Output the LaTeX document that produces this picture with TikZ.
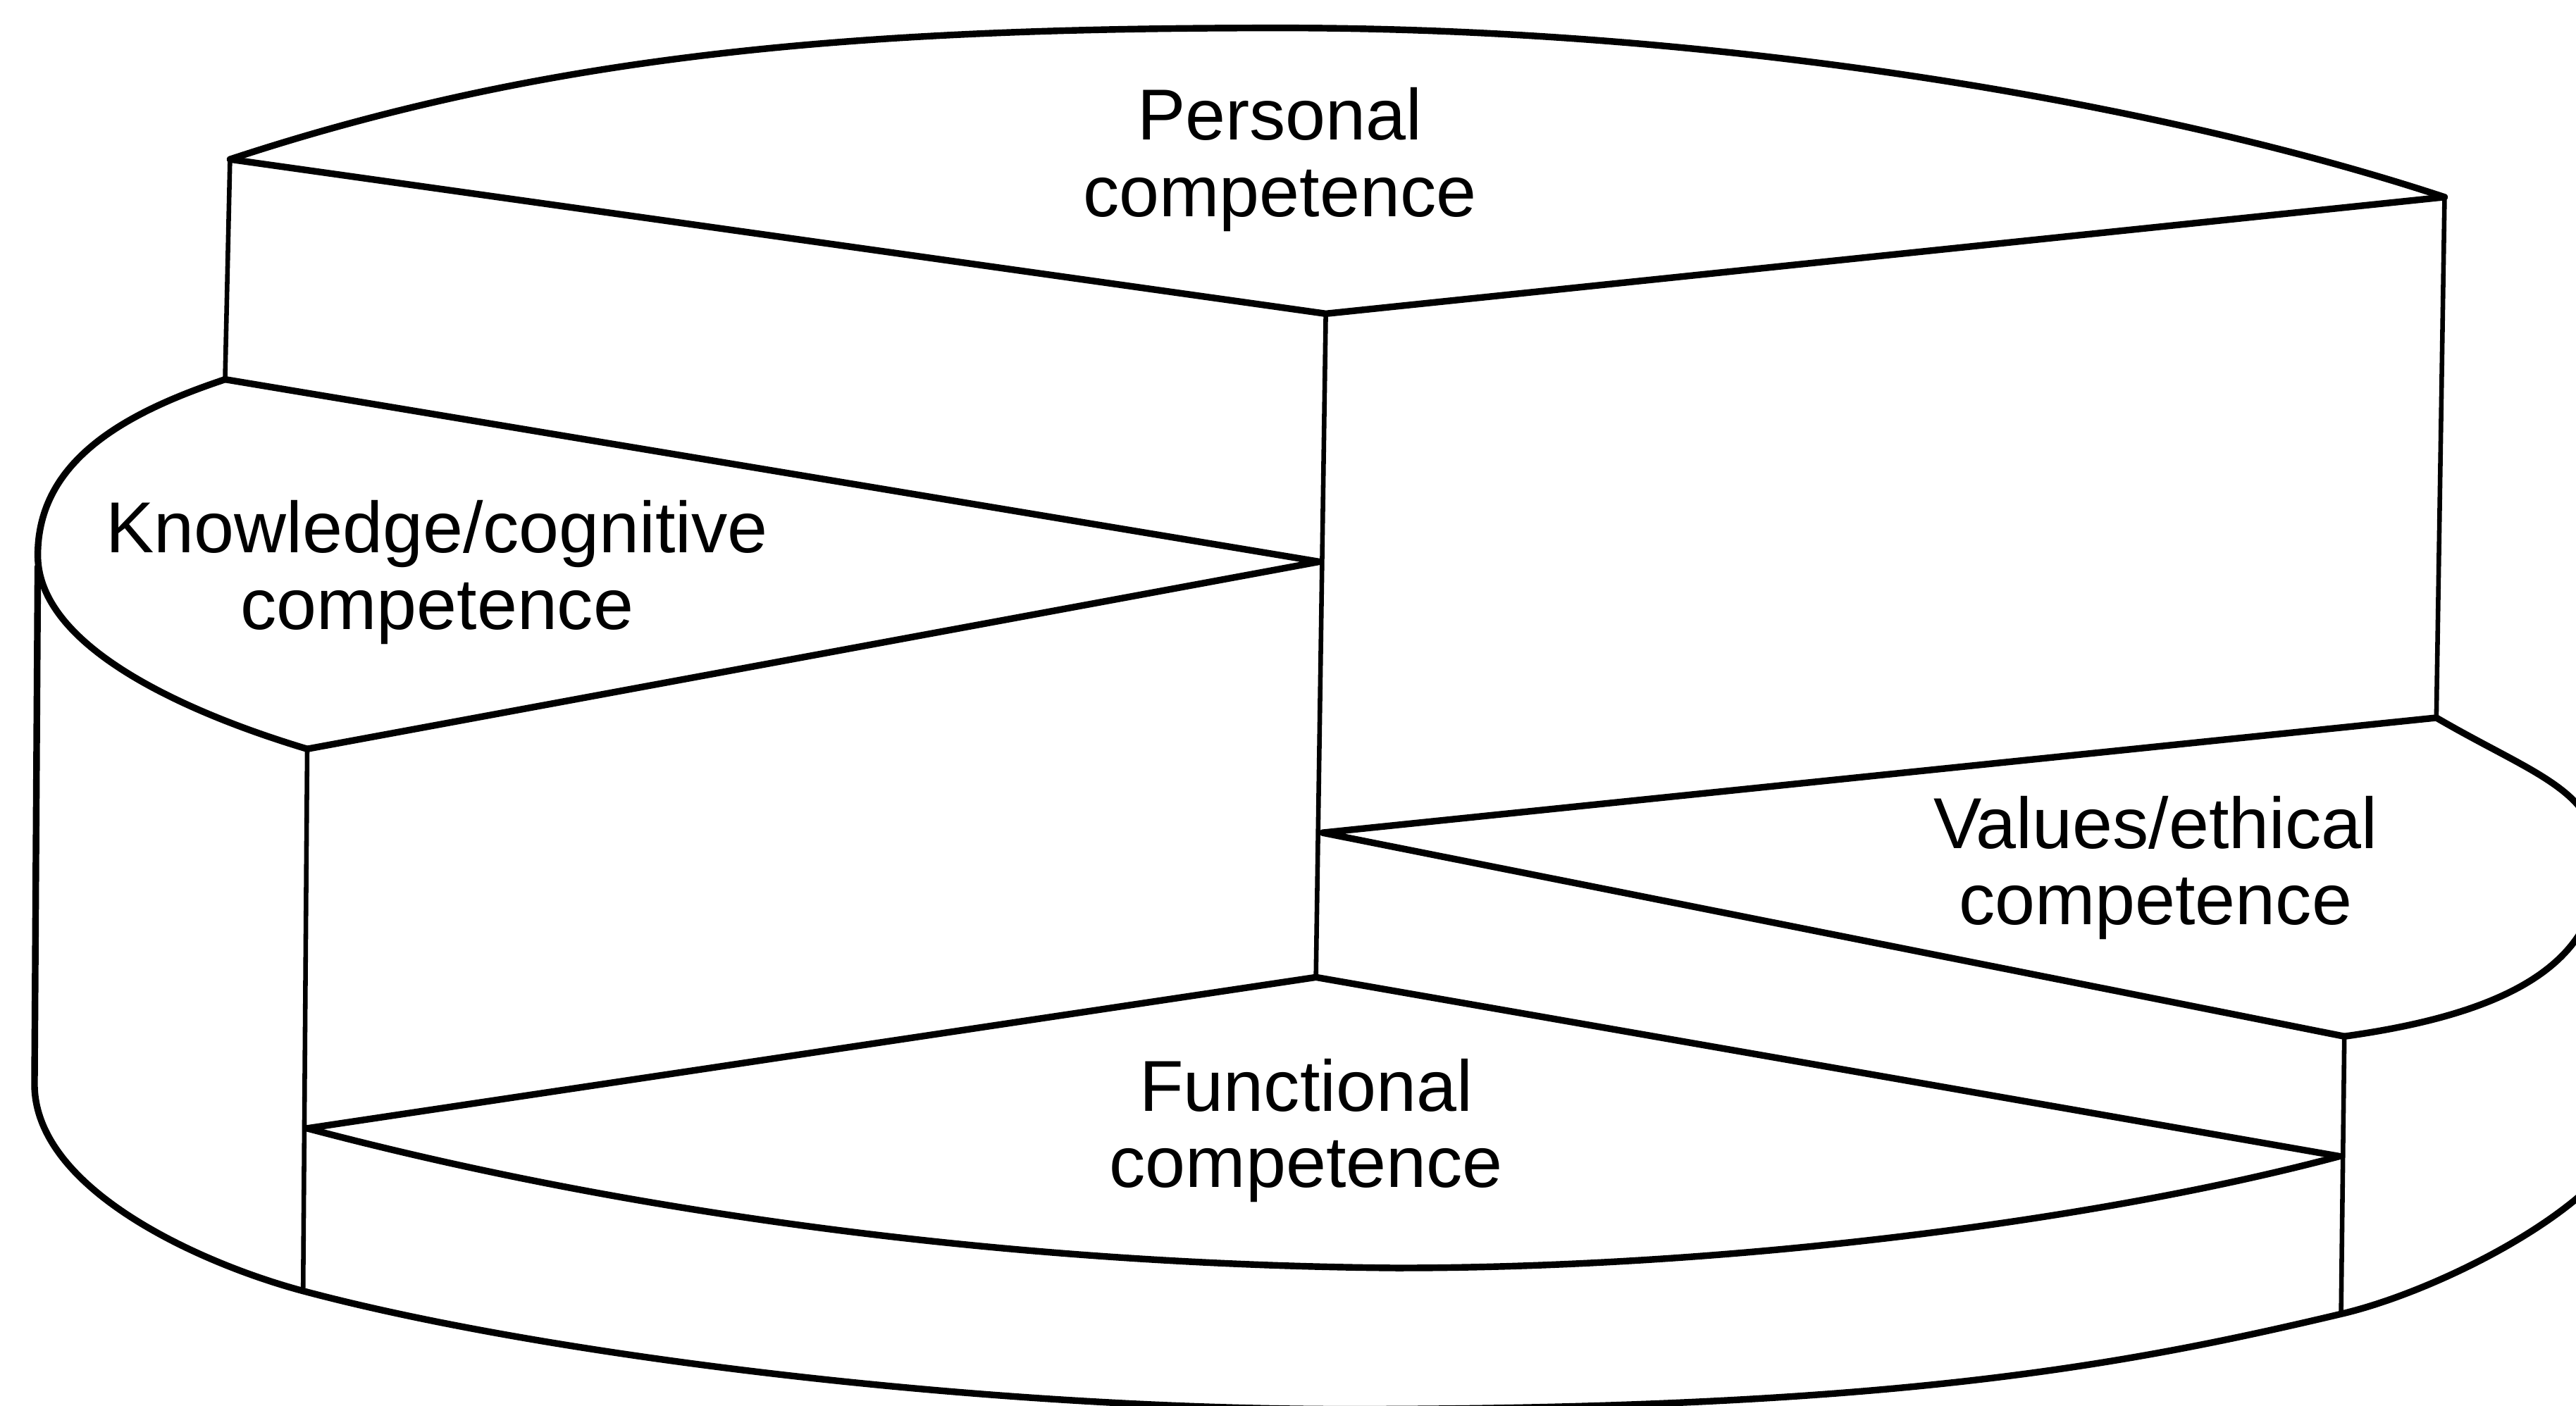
\documentclass[tikz,border=0pt]{standalone}
\usepackage{fontspec}
\setmainfont{Liberation Sans}
\begin{document}
\begin{tikzpicture}[x=0.1mm, y=-0.1mm,
  rim/.style={line width=1.15pt, line join=round, line cap=round},
  post/.style={line width=0.8pt, line cap=round},
  slicelabel/.style={font=\fontsize{12.5pt}{13.2pt}\selectfont, align=center, inner sep=0pt, anchor=base}]
\useasboundingbox (0,0) rectangle (1568,856);
\fill[white] (0,0) rectangle (1568,856);
\clip (0,0) rectangle (1568,856);

% slice corners (apex on the common axis, rim corners outside)
\coordinate (pL) at (140,97);    \coordinate (pA) at (807,191);   \coordinate (pR) at (1488,120);
\coordinate (kT) at (137,231);   \coordinate (kA) at (803,342);   \coordinate (kB) at (187,456);
\coordinate (vB) at (1483,437);  \coordinate (vA) at (805,507);   \coordinate (vF) at (1427,631);
\coordinate (fL) at (187,687);   \coordinate (fA) at (801,595);   \coordinate (fR) at (1424,704);
\coordinate (kFoot) at (184.5,786); \coordinate (vFoot) at (1425,800);
\coordinate (wallTop) at (23,345);  \coordinate (wallBot) at (21,660);

% Personal competence: top face
\draw[rim] (pL) .. controls (340,31) and (530,17) .. (780,17)
                .. controls (1040,17) and (1308,60.6) .. (pR);
\draw[rim] (pL) -- (pA) -- (pR);

% Knowledge/cognitive competence: top face
\draw[rim] (kT) .. controls (77,251) and (23,280) .. (23,338)
                .. controls (23,395) and (117,435) .. (kB);
\draw[rim] (kT) -- (kA) -- (kB);

% Values/ethical competence: top face
\draw[rim] (vB) .. controls (1543,472) and (1582,481) .. (1582,526)
                .. controls (1582,590) and (1520,618) .. (vF);
\draw[rim] (vB) -- (vA) -- (vF);

% Functional competence: top face
\draw[rim] (fL) .. controls (387,740) and (620,770) .. (850,772)
                .. controls (1050,772) and (1274,744) .. (fR);
\draw[rim] (fL) -- (fA) -- (fR);

% vertical edges of the side walls
\draw[post] (pL) -- (kT);
\draw[post] (pA) -- (fA);
\draw[post] (pR) -- (vB);
\draw[post] (kB) -- (kFoot);
\draw[post] (vF) -- (vFoot);

% outer silhouette: left wall and base rim
\draw[rim] (wallTop) -- (wallBot)
   .. controls (21,725) and (124.5,770) .. (kFoot)
   .. controls (334.5,826) and (600,858) .. (820,858)
   .. controls (1150,858) and (1290,832) .. (vFoot)
   .. controls (1485,786) and (1585,735) .. (1600,690);

% labels (anchored at the baseline of the last line)
\node[slicelabel] (personal) at (779,131.7) {Personal\\competence};
\node[slicelabel] (knowledge) at (266,383) {Knowledge/cognitive\\competence};
\node[slicelabel] (values) at (1312,563) {Values/ethical\\competence};
\node[slicelabel] (functional) at (795,723) {Functional\\competence};
\end{tikzpicture}
\end{document}
